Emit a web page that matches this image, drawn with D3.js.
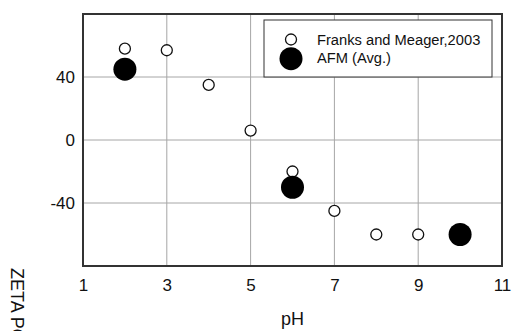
<!DOCTYPE html>
<html>
<head>
<meta charset="utf-8">
<script src="https://cdn.jsdelivr.net/npm/d3@7"></script>
<style>
  body { margin: 0; background: #fff; }
  svg { display: block; font-family: "Liberation Sans", Arial, sans-serif; }
</style>
</head>
<body>
<svg id="chart" width="512" height="331"></svg>
<script>
// Franks and Meager, 2003
const franksPH = [2, 3, 4, 5, 6, 7, 8, 9];
const franksZeta = [58, 57, 35, 6, -20, -45, -60, -60];
// AFM average
const afmPH = [2, 6, 10];
const afmZeta = [45, -30, -60];

const xTicks = [1, 3, 5, 7, 9, 11];
const yTicks = [-40, 0, 40];
const seriesNames = ["Franks and Meager,2003", "AFM (Avg.)"];

const margin = { top: 14, right: 10, bottom: 65, left: 83 };
const width = 512 - margin.left - margin.right;
const height = 331 - margin.top - margin.bottom;

const svg = d3.select("#chart");
const g = svg.append("g")
  .attr("transform", "translate(" + margin.left + "," + margin.top + ")");

const x = d3.scaleLinear().domain([1, 11]).range([0, width]);
const y = d3.scaleLinear().domain([-80, 80]).range([height, 0]);

// grid lines
g.append("g")
  .selectAll("line")
  .data(xTicks.slice(1, -1))
  .enter()
  .append("line")
  .attr("x1", d => x(d)).attr("x2", d => x(d))
  .attr("y1", 0).attr("y2", height)
  .attr("stroke", "#a6a6a6")
  .attr("stroke-width", 1);

g.append("g")
  .selectAll("line")
  .data(yTicks)
  .enter()
  .append("line")
  .attr("x1", 0).attr("x2", width)
  .attr("y1", d => y(d)).attr("y2", d => y(d))
  .attr("stroke", "#a6a6a6")
  .attr("stroke-width", 1);

// axes (labels only, the frame is drawn below)
const xAxis = g.append("g")
  .attr("transform", "translate(0," + height + ")")
  .call(d3.axisBottom(x).tickValues(xTicks).tickFormat(d => String(d)).tickSize(0).tickPadding(13));
xAxis.select(".domain").remove();
xAxis.selectAll("text")
  .attr("font-size", 17)
  .attr("font-family", "Liberation Sans, Arial, sans-serif")
  .attr("fill", "#111");

const yAxis = g.append("g")
  .call(d3.axisLeft(y).tickValues(yTicks).tickFormat(d => String(d)).tickSize(0).tickPadding(8));
yAxis.select(".domain").remove();
yAxis.selectAll("text")
  .attr("font-size", 17)
  .attr("font-family", "Liberation Sans, Arial, sans-serif")
  .attr("fill", "#111");

// frame
g.append("rect")
  .attr("x", 0).attr("y", 0)
  .attr("width", width).attr("height", height)
  .attr("fill", "none")
  .attr("stroke", "#333")
  .attr("stroke-width", 2);

// points
g.selectAll(".franks")
  .data(franksPH.map((p, i) => [p, franksZeta[i]]))
  .enter()
  .append("circle")
  .attr("class", "franks")
  .attr("cx", d => x(d[0]))
  .attr("cy", d => y(d[1]))
  .attr("r", 5.5)
  .attr("fill", "#fff")
  .attr("stroke", "#111")
  .attr("stroke-width", 1.3);

g.selectAll(".afm")
  .data(afmPH.map((p, i) => [p, afmZeta[i]]))
  .enter()
  .append("circle")
  .attr("class", "afm")
  .attr("cx", d => x(d[0]))
  .attr("cy", d => y(d[1]))
  .attr("r", 11.5)
  .attr("fill", "#000");

// legend
const legend = svg.append("g").attr("transform", "translate(264,20)");
legend.append("rect")
  .attr("width", 228).attr("height", 57)
  .attr("fill", "#fff")
  .attr("stroke", "#333")
  .attr("stroke-width", 1);
legend.append("circle")
  .attr("cx", 27).attr("cy", 19.5).attr("r", 5.5)
  .attr("fill", "#fff").attr("stroke", "#111").attr("stroke-width", 1.3);
legend.append("circle")
  .attr("cx", 27).attr("cy", 38.7).attr("r", 11.5)
  .attr("fill", "#000");
legend.selectAll("text")
  .data(seriesNames)
  .enter()
  .append("text")
  .attr("x", 53)
  .attr("y", (d, i) => 24.5 + i * 18)
  .attr("font-size", 14.7)
  .attr("fill", "#111")
  .text(d => d);

// axis titles
svg.append("text")
  .attr("x", margin.left + width / 2)
  .attr("y", 325)
  .attr("text-anchor", "middle")
  .attr("font-size", 18)
  .attr("fill", "#111")
  .text("pH");

svg.append("text")
  .attr("transform", "translate(11,268) rotate(90)")
  .attr("font-size", 18)
  .attr("fill", "#111")
  .text("ZETA POTENTIAL (mV)");
</script>
</body>
</html>
